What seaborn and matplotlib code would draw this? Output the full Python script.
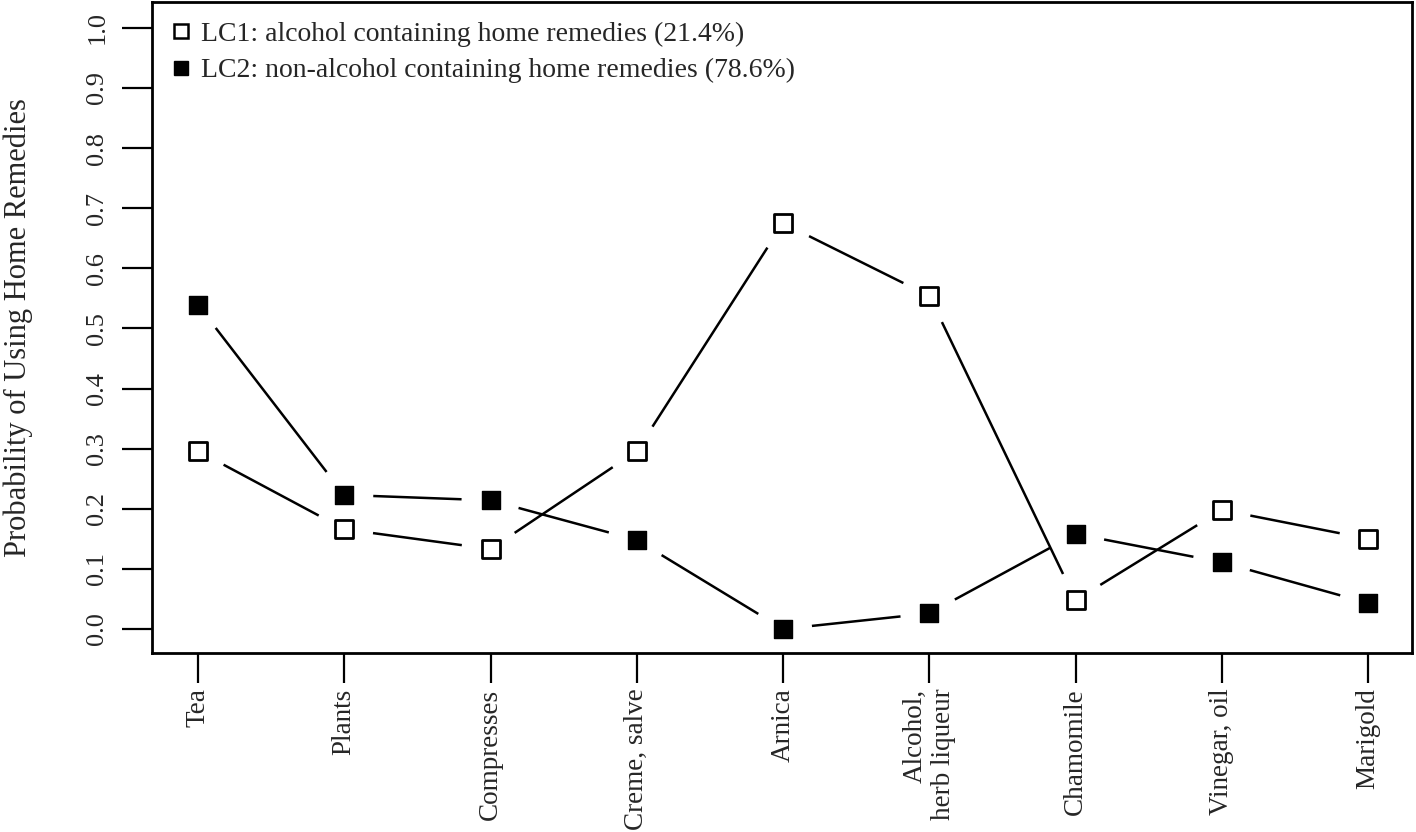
import numpy as np
import pandas as pd
import matplotlib
matplotlib.use("Agg")
import matplotlib.pyplot as plt
import seaborn as sns
from matplotlib.lines import Line2D

remedies = ["Tea", "Plants", "Compresses", "Creme, salve", "Arnica",
            "Alcohol,\nherb liqueur", "Chamomile", "Vinegar, oil", "Marigold"]
lc1 = [0.296, 0.166, 0.133, 0.296, 0.675, 0.554, 0.048, 0.198, 0.150]
lc2 = [0.539, 0.223, 0.214, 0.148, 0.000, 0.026, 0.158, 0.111, 0.043]
lc1_label = "LC1: alcohol containing home remedies (21.4%)"
lc2_label = "LC2: non-alcohol containing home remedies (78.6%)"
yticks = [0.0, 0.1, 0.2, 0.3, 0.4, 0.5, 0.6, 0.7, 0.8, 0.9, 1.0]

sns.set_style("ticks")
plt.rcParams["font.family"] = ["Liberation Serif", "DejaVu Serif"]

df = pd.DataFrame({"x": np.arange(len(remedies)), "lc1": lc1, "lc2": lc2})

fig = plt.figure(figsize=(14.16, 8.32), dpi=100)
ax = fig.add_axes([0.1073, 0.2151, 0.8899, 0.7825])
ax.set_xlim(-0.315, 8.3)
ax.set_ylim(-0.04, 1.043)

# markers
sns.scatterplot(data=df, x="x", y="lc1", marker="s", s=160, color="white",
                edgecolor="black", linewidth=2, ax=ax, zorder=3)
sns.scatterplot(data=df, x="x", y="lc2", marker="s", s=160, color="black",
                edgecolor="black", linewidth=1, ax=ax, zorder=3)

# R type="b" style lines: segments with gaps around the points
gap = 29  # pixels
fig.canvas.draw()
tr = ax.transData
for col in ["lc1", "lc2"]:
    pts = tr.transform(np.column_stack([df["x"], df[col]]))
    for p0, p1 in zip(pts[:-1], pts[1:]):
        d = p1 - p0
        L = np.hypot(*d)
        if L <= 2 * gap:
            continue
        u = d / L
        seg = tr.inverted().transform(np.vstack([p0 + u * gap, p1 - u * gap]))
        ax.plot(seg[:, 0], seg[:, 1], color="black", lw=1.8,
                solid_capstyle="butt", zorder=2)

ax.set_xticks(df["x"])
ax.set_xticklabels(remedies, rotation=90, fontsize=19.5, va="top", ma="right")
ax.set_yticks(yticks)
ax.set_yticklabels([f"{v:.1f}" for v in yticks], rotation=90, fontsize=19,
                   va="center")
ax.tick_params(axis="both", length=21.5, width=1.6, color="black")
ax.tick_params(axis="y", pad=10)
ax.tick_params(axis="x", pad=4)
ax.set_xlabel("")
ax.set_ylabel("Probability of Using Home Remedies", fontsize=22, labelpad=38)
for s in ax.spines.values():
    s.set_linewidth(2)
    s.set_color("black")

handles = [
    Line2D([], [], ls="none", marker="s", ms=10, mfc="white", mec="black", mew=1.8),
    Line2D([], [], ls="none", marker="s", ms=10, mfc="black", mec="black"),
]
ax.legend(handles, [lc1_label, lc2_label], loc="upper left", frameon=False,
          fontsize=20, handlelength=0.7, handletextpad=0.35, labelspacing=0.4,
          borderaxespad=0.3)

fig.savefig("out.png", dpi=100)
